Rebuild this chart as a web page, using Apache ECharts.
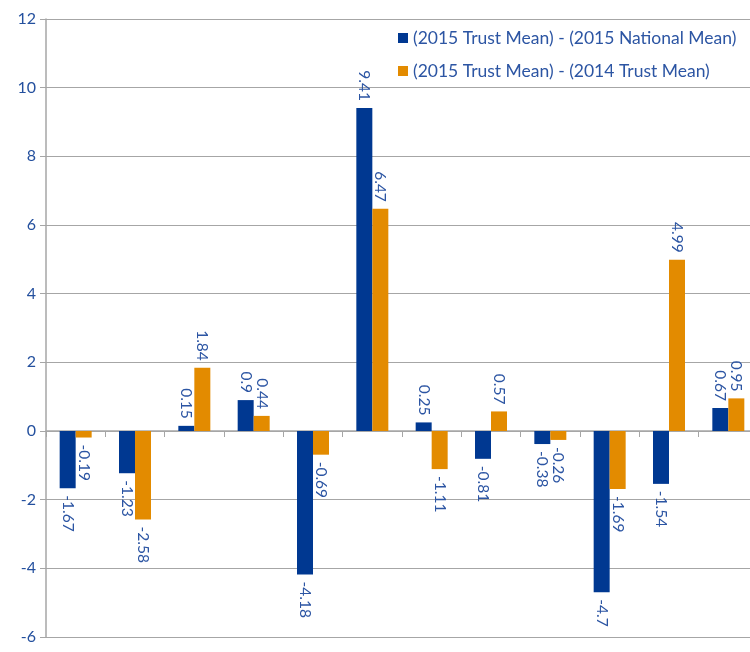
<!DOCTYPE html>
<html><head><meta charset="utf-8">
<script src="https://cdn.jsdelivr.net/npm/echarts@6/dist/echarts.min.js"></script>
<style>html,body{margin:0;padding:0;background:#fff;overflow:hidden;width:750px;height:652px}#c{width:758px;height:652px}</style>
</head><body><div id="c"></div>
<script>
const categories = ['1','2','3','4','5','6','7','8','9','10','11','12'];
const seriesNames = ['(2015 Trust Mean) - (2015 National Mean)', '(2015 Trust Mean) - (2014 Trust Mean)'];
const nationalDiff = [-1.67, -1.23, 0.15, 0.9, -4.18, 9.41, 0.25, -0.81, -0.38, -4.7, -1.54, 0.67];
const trustDiff = [-0.19, -2.58, 1.84, 0.44, -0.69, 6.47, -1.11, 0.57, -0.26, -1.69, 4.99, 0.95];
const yTicks = [-6, -4, -2, 0, 2, 4, 6, 8, 10, 12];

const FONT = 'Lato, "Open Sans", sans-serif';
const TXT = '#2c55a3';
function withLabels(arr) {
  return arr.map(v => ({
    value: v,
    label: {
      position: v >= 0 ? 'top' : 'bottom',
      align: v >= 0 ? 'right' : 'left',
      verticalAlign: 'middle'
    }
  }));
}
const chart = echarts.init(document.getElementById('c'));
chart.setOption({
  animation: false,
  grid: { left: 46, right: 0, top: 19, bottom: 15, containLabel: false },
  legend: {
    orient: 'vertical', left: 393, top: 24, itemWidth: 10, itemHeight: 10, itemGap: 15,
    icon: 'rect',
    textStyle: { color: TXT, fontSize: 17.5, fontFamily: FONT },
    data: seriesNames
  },
  xAxis: {
    type: 'category', data: categories,
    axisLine: { onZero: true, lineStyle: { color: '#a6a6a6', width: 1.5 } },
    axisTick: { show: true, length: 6, lineStyle: { color: '#a6a6a6' } },
    axisLabel: { show: false },
    splitLine: { show: false }
  },
  yAxis: {
    type: 'value', min: yTicks[0], max: yTicks[yTicks.length - 1], interval: 2,
    axisLine: { show: true, lineStyle: { color: '#a6a6a6', width: 1.5 } },
    axisTick: { show: true, length: 6, lineStyle: { color: '#a6a6a6' } },
    axisLabel: { color: '#24509e', fontSize: 16, fontFamily: FONT, margin: 10 },
    splitLine: { lineStyle: { color: '#a6a6a6', width: 1 } }
  },
  series: [
    {
      name: seriesNames[0], type: 'bar', data: withLabels(nationalDiff),
      barWidth: 16, barGap: '0%',
      itemStyle: { color: '#003891' },
      label: { show: true, rotate: -90, distance: 7, color: TXT, fontSize: 15.5, fontFamily: FONT }
    },
    {
      name: seriesNames[1], type: 'bar', data: withLabels(trustDiff),
      barWidth: 16, barGap: '0%',
      itemStyle: { color: '#e38b00' },
      label: { show: true, rotate: -90, distance: 7, color: TXT, fontSize: 15.5, fontFamily: FONT }
    }
  ]
});
</script></body></html>
